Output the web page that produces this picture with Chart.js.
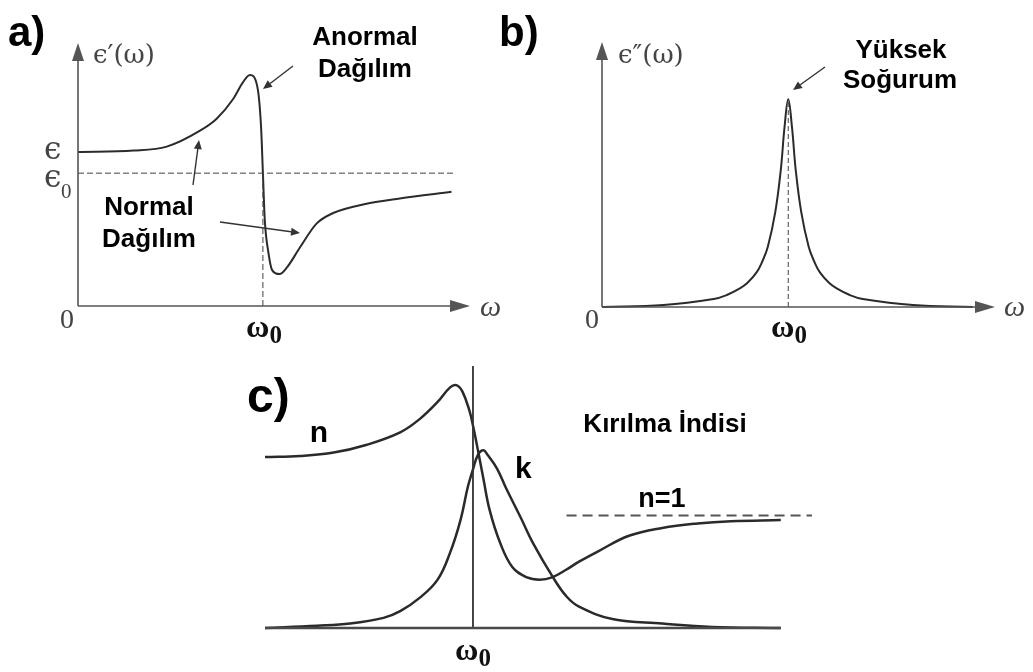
<!DOCTYPE html>
<html>
<head>
<meta charset="utf-8">
<script src="https://cdn.jsdelivr.net/npm/chart.js@4.4.0/dist/chart.umd.min.js"></script>
<style>
    html, body { margin: 0; padding: 0; background: #fff; }
    #wrap { position: relative; width: 1033px; height: 672px; }
    #wrap canvas { position: absolute; left: 0; top: 0; }
</style>
</head>
<body>
<div id="wrap">
    <canvas id="chartA" width="1033" height="672"></canvas>
    <canvas id="chartB" width="1033" height="672"></canvas>
    <canvas id="chartC" width="1033" height="672"></canvas>
</div>
<script>
// --- values (omega in units of omega0) ---

// a) real part of the permittivity
const omegaA = [0, 0.30, 0.48, 0.66, 0.75, 0.84, 0.89, 0.93, 0.97, 0.99, 1.00, 1.01, 1.03, 1.05, 1.09, 1.13, 1.20, 1.29, 1.38, 1.56, 1.74, 2.02];
const epsRealA = [1.16, 1.17, 1.20, 1.32, 1.41, 1.56, 1.68, 1.74, 1.65, 1.35, 1.00, 0.65, 0.40, 0.27, 0.24, 0.29, 0.44, 0.62, 0.70, 0.77, 0.81, 0.86];
const eps0Level = 1.0;
const eps0LineEnd = 2.04;

// b) imaginary part of the permittivity
const omegaB = [0, 0.33, 0.60, 0.67, 0.74, 0.78, 0.83, 0.86, 0.89, 0.93, 0.96, 0.98, 1.00, 1.02, 1.04, 1.07, 1.11, 1.14, 1.17, 1.22, 1.26, 1.33, 1.40, 1.67, 1.99];
const epsImagB = [0, 0.015, 0.06, 0.09, 0.14, 0.18, 0.26, 0.34, 0.45, 0.71, 1.03, 1.35, 1.56, 1.35, 1.03, 0.71, 0.45, 0.34, 0.26, 0.18, 0.14, 0.09, 0.06, 0.015, 0];

// c) refractive index n and extinction k
const omegaN = [0, 0.17, 0.33, 0.49, 0.65, 0.745, 0.83, 0.89, 0.92, 0.95, 0.985, 1.00, 1.024, 1.05, 1.08, 1.13, 1.19, 1.26, 1.32, 1.38, 1.45, 1.51, 1.60, 1.75, 1.91, 2.08, 2.24, 2.48];
const nValues = [1.52, 1.53, 1.56, 1.63, 1.74, 1.86, 2.01, 2.14, 2.16, 2.10, 1.92, 1.80, 1.58, 1.33, 1.05, 0.76, 0.54, 0.45, 0.43, 0.45, 0.52, 0.59, 0.68, 0.82, 0.89, 0.93, 0.95, 0.96];
const omegaK = [0, 0.25, 0.41, 0.57, 0.65, 0.745, 0.83, 0.89, 0.94, 0.976, 1.00, 1.024, 1.05, 1.07, 1.115, 1.16, 1.23, 1.29, 1.385, 1.45, 1.51, 1.67, 1.91, 2.15, 2.48];
const kValues = [0, 0.02, 0.04, 0.09, 0.15, 0.27, 0.43, 0.67, 0.96, 1.26, 1.41, 1.54, 1.58, 1.54, 1.42, 1.24, 0.98, 0.75, 0.45, 0.28, 0.19, 0.08, 0.04, 0.01, 0];
const nOneStart = 1.45;
const nOneEnd = 2.63;
const curveEndC = 2.48;

// --- helpers ---
function toPoints(xs, ys) {
    return xs.map((x, i) => ({ x: x, y: ys[i] }));
}

const SANS_BOLD = '"Liberation Sans", Arial, sans-serif';
const SERIF = '"Liberation Serif", "DejaVu Serif", serif';
const MATH = '"DejaVu Serif", serif';

function drawText(ctx, str, x, y, font, color, align) {
    ctx.save();
    ctx.font = font;
    ctx.fillStyle = color || '#000';
    ctx.textAlign = align || 'left';
    ctx.textBaseline = 'alphabetic';
    ctx.fillText(str, x, y);
    ctx.restore();
}

// bold omega with subscript zero, centered on cx
function drawOmega0(ctx, cx, baseline) {
    ctx.save();
    ctx.font = 'bold 32px ' + SERIF;
    const wW = ctx.measureText('\u03C9').width;
    ctx.font = 'bold 25px ' + SERIF;
    const wZ = ctx.measureText('0').width;
    const left = cx - (wW + wZ) / 2;
    drawText(ctx, '\u03C9', left, baseline, 'bold 32px ' + SERIF, '#111');
    drawText(ctx, '0', left + wW, baseline + 6, 'bold 25px ' + SERIF, '#111');
    ctx.restore();
}

function drawArrow(ctx, x1, y1, x2, y2, headLen, headHalf, color, width) {
    const ang = Math.atan2(y2 - y1, x2 - x1);
    const bx = x2 - headLen * Math.cos(ang);
    const by = y2 - headLen * Math.sin(ang);
    ctx.save();
    ctx.strokeStyle = color;
    ctx.fillStyle = color;
    ctx.lineWidth = width;
    ctx.beginPath();
    ctx.moveTo(x1, y1);
    ctx.lineTo(bx, by);
    ctx.stroke();
    ctx.beginPath();
    ctx.moveTo(x2, y2);
    ctx.lineTo(bx + headHalf * Math.sin(ang), by - headHalf * Math.cos(ang));
    ctx.lineTo(bx - headHalf * Math.sin(ang), by + headHalf * Math.cos(ang));
    ctx.closePath();
    ctx.fill();
    ctx.restore();
}

// the two arrowed axes sit on the edges of the chart area
function drawAxes(chart) {
    const ctx = chart.ctx;
    const a = chart.chartArea;
    drawArrow(ctx, a.left, a.bottom, a.right, a.bottom, 20, 6, '#555', 1.6);
    drawArrow(ctx, a.left, a.bottom, a.left, a.top, 18, 6, '#555', 1.6);
}

function curveDataset(points, color, width, smooth) {
    const ds = {
        data: points,
        borderColor: color,
        borderWidth: width,
        pointRadius: 0,
        fill: false,
        clip: false
    };
    if (smooth === 'monotone') {
        ds.cubicInterpolationMode = 'monotone';
    } else {
        ds.tension = 0.4;
    }
    return ds;
}

function refDataset(points, color, width, dash) {
    return {
        data: points,
        borderColor: color,
        borderWidth: width,
        borderDash: dash || [],
        pointRadius: 0,
        fill: false,
        tension: 0,
        clip: false
    };
}

function baseOptions(padding, xMax, yMax) {
    return {
        responsive: false,
        animation: false,
        devicePixelRatio: 1,
        layout: { padding: padding },
        plugins: { legend: { display: false }, tooltip: { enabled: false } },
        scales: {
            x: { type: 'linear', min: 0, max: xMax, display: false },
            y: { type: 'linear', min: 0, max: yMax, display: false }
        },
        events: []
    };
}

// --- a) ---
new Chart(document.getElementById('chartA'), {
    type: 'line',
    data: {
        datasets: [
            refDataset([{ x: 0, y: eps0Level }, { x: eps0LineEnd, y: eps0Level }], '#444', 1, [6, 3]),
            refDataset([{ x: 1, y: 0 }, { x: 1, y: eps0Level }], '#444', 1, [6, 3]),
            curveDataset(toPoints(omegaA, epsRealA), '#2b2b2b', 2, 'monotone')
        ]
    },
    options: baseOptions({ left: 78, top: 43, right: 563, bottom: 366 }, 2.12, 1.98),
    plugins: [{
        id: 'decorA',
        afterDraw(chart) {
            const ctx = chart.ctx;
            drawAxes(chart);
            drawText(ctx, 'a)', 8, 46, 'bold 42px ' + SANS_BOLD, '#000');
            drawText(ctx, '\u03F5\u2032(\u03C9)', 93, 63, '26px ' + MATH, '#444');
            drawText(ctx, '\u03F5', 44, 159, '31px ' + MATH, '#444');
            drawText(ctx, '\u03F5', 44, 187, '31px ' + MATH, '#444');
            drawText(ctx, '0', 61, 198, '21px ' + SERIF, '#444');
            drawText(ctx, '0', 67, 328, '28px ' + SERIF, '#444', 'center');
            drawText(ctx, '\u03C9', 480, 316, 'italic 30px ' + SERIF, '#444');
            drawOmega0(ctx, 264, 337);
            drawText(ctx, 'Anormal', 365, 45, 'bold 26px ' + SANS_BOLD, '#000', 'center');
            drawText(ctx, 'Da\u011F\u0131l\u0131m', 365, 77, 'bold 26px ' + SANS_BOLD, '#000', 'center');
            drawText(ctx, 'Normal', 149, 215, 'bold 26px ' + SANS_BOLD, '#000', 'center');
            drawText(ctx, 'Da\u011F\u0131l\u0131m', 149, 247, 'bold 26px ' + SANS_BOLD, '#000', 'center');
            drawArrow(ctx, 293, 66, 263, 89, 9, 4, '#333', 1.4);
            drawArrow(ctx, 193, 185, 199, 140, 9, 4, '#333', 1.4);
            drawArrow(ctx, 220, 222, 300, 233, 9, 4, '#333', 1.4);
        }
    }]
});

// --- b) ---
new Chart(document.getElementById('chartB'), {
    type: 'line',
    data: {
        datasets: [
            refDataset([{ x: 1, y: 0 }, { x: 1, y: 1.56 }], '#444', 1, [5, 3]),
            curveDataset(toPoints(omegaB, epsImagB), '#2b2b2b', 2)
        ]
    },
    options: baseOptions({ left: 602, top: 42, right: 38, bottom: 365 }, 2.11, 1.99),
    plugins: [{
        id: 'decorB',
        afterDraw(chart) {
            const ctx = chart.ctx;
            drawAxes(chart);
            drawText(ctx, 'b)', 499, 46, 'bold 42px ' + SANS_BOLD, '#000');
            drawText(ctx, '\u03F5\u2033(\u03C9)', 618, 63, '26px ' + MATH, '#444');
            drawText(ctx, '0', 592, 328, '28px ' + SERIF, '#444', 'center');
            drawText(ctx, '\u03C9', 1004, 316, 'italic 30px ' + SERIF, '#444');
            drawOmega0(ctx, 789, 337);
            drawText(ctx, 'Y\u00FCksek', 901, 58, 'bold 26px ' + SANS_BOLD, '#000', 'center');
            drawText(ctx, 'So\u011Furum', 900, 88, 'bold 26px ' + SANS_BOLD, '#000', 'center');
            drawArrow(ctx, 825, 67, 793, 90, 9, 4, '#333', 1.4);
        }
    }]
});

// --- c) ---
new Chart(document.getElementById('chartC'), {
    type: 'line',
    data: {
        datasets: [
            refDataset([{ x: 0, y: 0 }, { x: curveEndC, y: 0 }], '#4a4a4a', 2.5),
            refDataset([{ x: 1, y: 0 }, { x: 1, y: 2.33 }], '#333', 1.8),
            refDataset([{ x: nOneStart, y: 1 }, { x: nOneEnd, y: 1 }], '#555', 2, [10, 6]),
            curveDataset(toPoints(omegaK, kValues), '#2a2a2a', 2.5),
            curveDataset(toPoints(omegaN, nValues), '#2a2a2a', 2.5)
        ]
    },
    options: baseOptions({ left: 265, top: 366, right: 220, bottom: 44 }, 2.635, 2.33),
    plugins: [{
        id: 'decorC',
        afterDraw(chart) {
            const ctx = chart.ctx;
            drawText(ctx, 'c)', 247, 412, 'bold 48px ' + SANS_BOLD, '#000');
            drawText(ctx, 'n', 319, 442, 'bold 30px ' + SANS_BOLD, '#000', 'center');
            drawText(ctx, 'k', 515, 478, 'bold 30px ' + SANS_BOLD, '#000');
            drawText(ctx, 'K\u0131r\u0131lma \u0130ndisi', 665, 432, 'bold 26px ' + SANS_BOLD, '#000', 'center');
            drawText(ctx, 'n=1', 662, 507, 'bold 27px ' + SANS_BOLD, '#000', 'center');
            drawOmega0(ctx, 473, 660);
        }
    }]
});
</script>
</body>
</html>
